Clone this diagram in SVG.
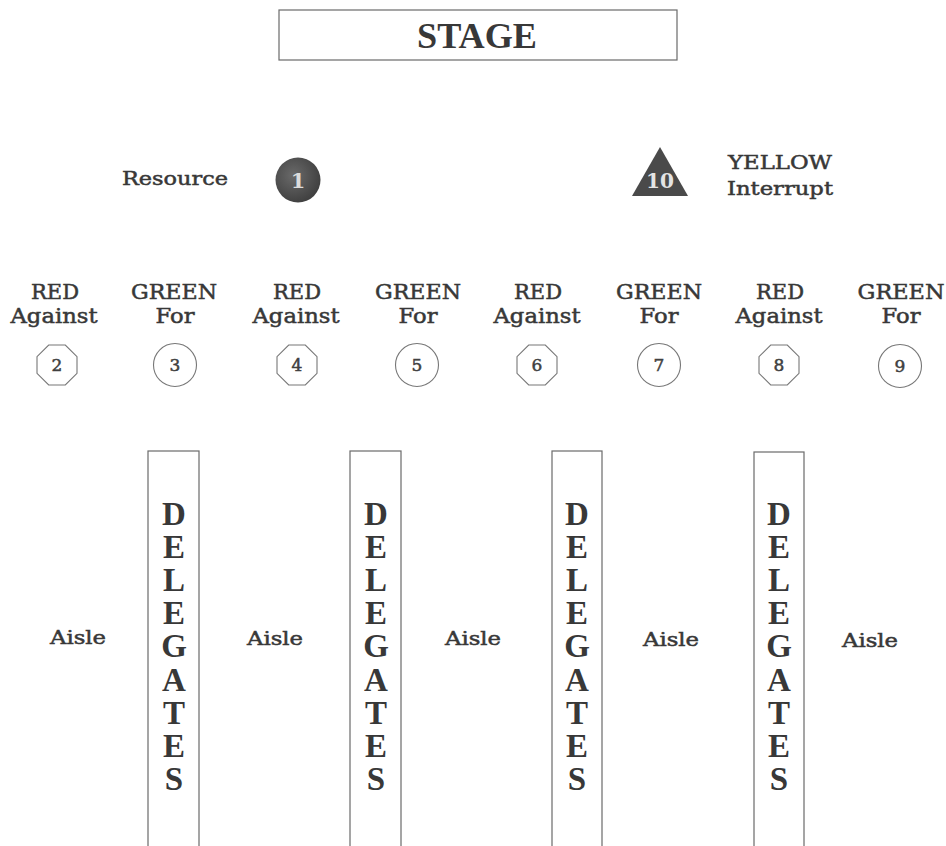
<svg xmlns="http://www.w3.org/2000/svg" width="946" height="846" viewBox="0 0 946 846">
<style>
  text { font-family: "DejaVu Serif", "Liberation Serif", serif; fill: #383838; text-anchor: middle; }
  .lbl { font-size: 20.5px; stroke: #383838; stroke-width: 0.5; }
  .sm { font-size: 19px; stroke: #383838; stroke-width: 0.5; }
  .big { font-family: "Liberation Serif", "DejaVu Serif", serif; font-size: 35px; font-weight: bold; }
  .dl { font-family: "Liberation Serif", "DejaVu Serif", serif; font-size: 33px; font-weight: bold; }
  .num { font-size: 17px; fill: #404040; stroke: #404040; stroke-width: 0.5; }
  .box { fill: none; stroke: #6a6a6a; stroke-width: 1.2; }
  .seat { fill: #fff; stroke: #777; stroke-width: 1.1; }
</style>
<defs>
  <polygon id="oct" points="-8.3,-20 8.3,-20 20,-8.3 20,8.3 8.3,20 -8.3,20 -20,8.3 -20,-8.3" class="seat"/>
  <radialGradient id="g1" cx="0.4" cy="0.4" r="0.65">
    <stop offset="0" stop-color="#6a6a6a"/>
    <stop offset="1" stop-color="#3e3e3e"/>
  </radialGradient>
</defs>
<rect width="946" height="846" fill="#ffffff"/>

<g id="stage">
  <rect x="279" y="10" width="398" height="50" class="box"/>
  <text x="477" y="48" class="big" textLength="120" lengthAdjust="spacingAndGlyphs">STAGE</text>
</g>

<g id="resource">
  <text x="175" y="185" class="sm" textLength="106" lengthAdjust="spacingAndGlyphs">Resource</text>
  <circle cx="298" cy="180" r="22.5" fill="url(#g1)"/>
  <text x="298" y="188" style="font-size:21px;font-weight:bold;fill:#dcdcdc">1</text>
</g>

<g id="interrupt">
  <polygon points="660,147 632,196 688,196" fill="#4a4a4a"/>
  <text x="660" y="188" style="font-size:20px;font-weight:bold;fill:#e4e4e4" textLength="28" lengthAdjust="spacingAndGlyphs">10</text>
  <text x="780" y="169" class="sm" textLength="104" lengthAdjust="spacingAndGlyphs">YELLOW</text>
  <text x="780" y="195" class="sm" textLength="106" lengthAdjust="spacingAndGlyphs">Interrupt</text>
</g>

<g id="seat2">
  <text x="55" y="299" class="lbl" textLength="48" lengthAdjust="spacingAndGlyphs">RED</text>
  <text x="54" y="323" class="lbl" textLength="87" lengthAdjust="spacingAndGlyphs">Against</text>
  <use href="#oct" x="57" y="365"/>
  <text x="57" y="371" class="num">2</text>
</g>
<g id="seat3">
  <text x="174" y="299" class="lbl" textLength="86" lengthAdjust="spacingAndGlyphs">GREEN</text>
  <text x="175" y="323" class="lbl" textLength="39" lengthAdjust="spacingAndGlyphs">For</text>
  <circle cx="175" cy="365" r="21.5" class="seat"/>
  <text x="175" y="371" class="num">3</text>
</g>
<g id="seat4">
  <text x="297" y="299" class="lbl" textLength="48" lengthAdjust="spacingAndGlyphs">RED</text>
  <text x="296" y="323" class="lbl" textLength="87" lengthAdjust="spacingAndGlyphs">Against</text>
  <use href="#oct" x="297" y="365"/>
  <text x="297" y="371" class="num">4</text>
</g>
<g id="seat5">
  <text x="418" y="299" class="lbl" textLength="86" lengthAdjust="spacingAndGlyphs">GREEN</text>
  <text x="418" y="323" class="lbl" textLength="39" lengthAdjust="spacingAndGlyphs">For</text>
  <circle cx="417" cy="365" r="21.5" class="seat"/>
  <text x="417" y="371" class="num">5</text>
</g>
<g id="seat6">
  <text x="538" y="299" class="lbl" textLength="48" lengthAdjust="spacingAndGlyphs">RED</text>
  <text x="537" y="323" class="lbl" textLength="87" lengthAdjust="spacingAndGlyphs">Against</text>
  <use href="#oct" x="537" y="365"/>
  <text x="537" y="371" class="num">6</text>
</g>
<g id="seat7">
  <text x="659" y="299" class="lbl" textLength="86" lengthAdjust="spacingAndGlyphs">GREEN</text>
  <text x="659" y="323" class="lbl" textLength="39" lengthAdjust="spacingAndGlyphs">For</text>
  <circle cx="659" cy="365" r="21.5" class="seat"/>
  <text x="659" y="371" class="num">7</text>
</g>
<g id="seat8">
  <text x="780" y="299" class="lbl" textLength="48" lengthAdjust="spacingAndGlyphs">RED</text>
  <text x="779" y="323" class="lbl" textLength="87" lengthAdjust="spacingAndGlyphs">Against</text>
  <use href="#oct" x="779" y="365"/>
  <text x="779" y="371" class="num">8</text>
</g>
<g id="seat9">
  <text x="901" y="299" class="lbl" textLength="87" lengthAdjust="spacingAndGlyphs">GREEN</text>
  <text x="901" y="323" class="lbl" textLength="39" lengthAdjust="spacingAndGlyphs">For</text>
  <circle cx="900" cy="366" r="21.5" class="seat"/>
  <text x="900" y="372" class="num">9</text>
</g>

<g id="aisles">
  <text x="78" y="644" class="sm" textLength="56" lengthAdjust="spacingAndGlyphs">Aisle</text>
  <text x="275" y="645" class="sm" textLength="56" lengthAdjust="spacingAndGlyphs">Aisle</text>
  <text x="473" y="645" class="sm" textLength="56" lengthAdjust="spacingAndGlyphs">Aisle</text>
  <text x="671" y="646" class="sm" textLength="56" lengthAdjust="spacingAndGlyphs">Aisle</text>
  <text x="870" y="647" class="sm" textLength="56" lengthAdjust="spacingAndGlyphs">Aisle</text>
</g>

<g id="delegates1">
  <rect x="148" y="451" width="51" height="400" class="box"/>
  <text x="174" class="dl"><tspan x="174" y="525">D</tspan><tspan x="174" y="558">E</tspan><tspan x="174" y="591">L</tspan><tspan x="174" y="624">E</tspan><tspan x="174" y="657">G</tspan><tspan x="174" y="691">A</tspan><tspan x="174" y="724">T</tspan><tspan x="174" y="757">E</tspan><tspan x="174" y="790">S</tspan></text>
</g>
<g id="delegates2">
  <rect x="350" y="451" width="51" height="400" class="box"/>
  <text x="376" class="dl"><tspan x="376" y="525">D</tspan><tspan x="376" y="558">E</tspan><tspan x="376" y="591">L</tspan><tspan x="376" y="624">E</tspan><tspan x="376" y="657">G</tspan><tspan x="376" y="691">A</tspan><tspan x="376" y="724">T</tspan><tspan x="376" y="757">E</tspan><tspan x="376" y="790">S</tspan></text>
</g>
<g id="delegates3">
  <rect x="552" y="451" width="50" height="400" class="box"/>
  <text x="577" class="dl"><tspan x="577" y="525">D</tspan><tspan x="577" y="558">E</tspan><tspan x="577" y="591">L</tspan><tspan x="577" y="624">E</tspan><tspan x="577" y="657">G</tspan><tspan x="577" y="691">A</tspan><tspan x="577" y="724">T</tspan><tspan x="577" y="757">E</tspan><tspan x="577" y="790">S</tspan></text>
</g>
<g id="delegates4">
  <rect x="754" y="452" width="50" height="400" class="box"/>
  <text x="779" class="dl"><tspan x="779" y="525">D</tspan><tspan x="779" y="558">E</tspan><tspan x="779" y="591">L</tspan><tspan x="779" y="624">E</tspan><tspan x="779" y="657">G</tspan><tspan x="779" y="691">A</tspan><tspan x="779" y="724">T</tspan><tspan x="779" y="757">E</tspan><tspan x="779" y="790">S</tspan></text>
</g>

<g id="connectors"></g>
</svg>
